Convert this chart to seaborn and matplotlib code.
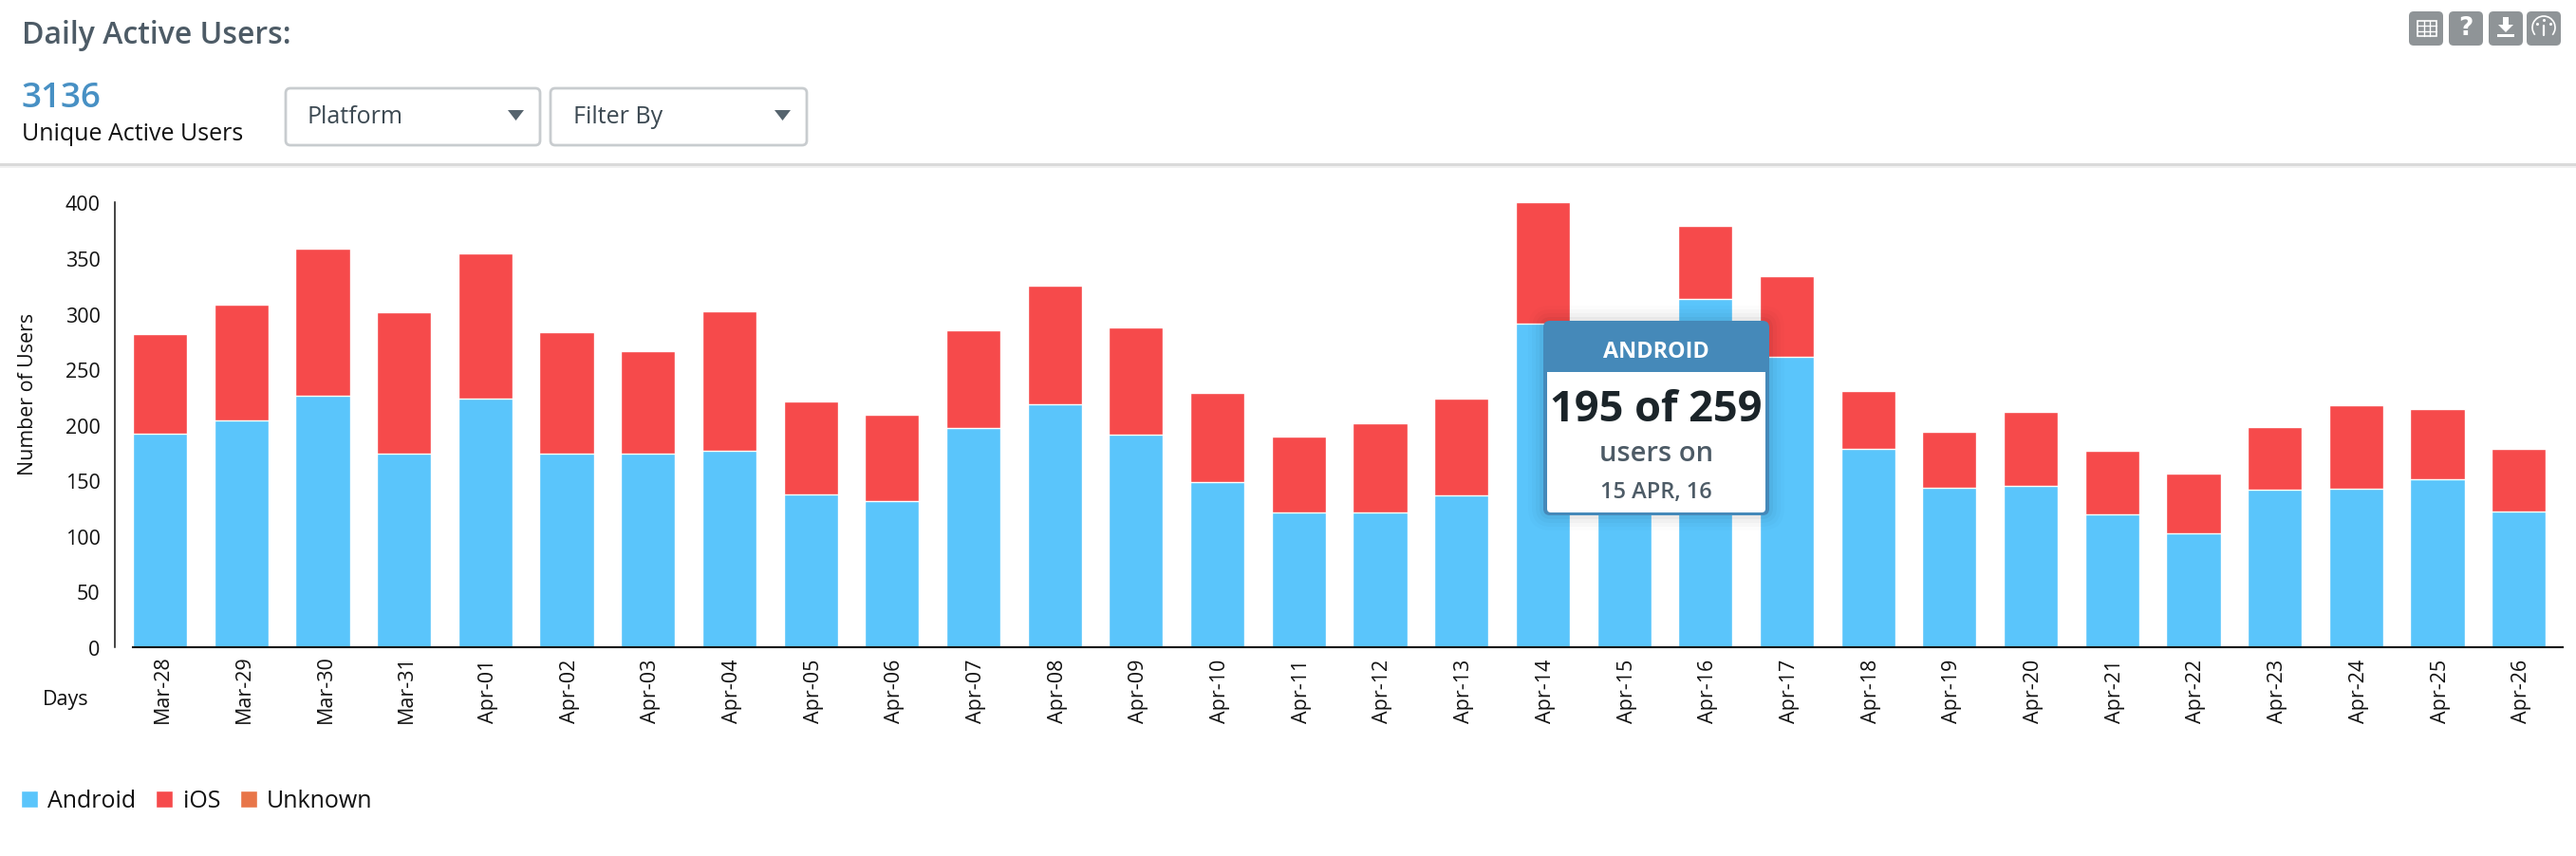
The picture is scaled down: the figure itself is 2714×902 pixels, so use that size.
import matplotlib
matplotlib.use("Agg")
import matplotlib.pyplot as plt
import matplotlib.transforms as mtrans
from matplotlib.patches import FancyBboxPatch, Rectangle, Polygon, Arc, Patch
import seaborn as sns
import pandas as pd

days = ["Mar-28","Mar-29","Mar-30","Mar-31","Apr-01","Apr-02","Apr-03","Apr-04","Apr-05","Apr-06",
        "Apr-07","Apr-08","Apr-09","Apr-10","Apr-11","Apr-12","Apr-13","Apr-14","Apr-15","Apr-16",
        "Apr-17","Apr-18","Apr-19","Apr-20","Apr-21","Apr-22","Apr-23","Apr-24","Apr-25","Apr-26"]
android = [192,204,226,174,223,174,174,176,137,131,197,218,191,148,121,121,136,291,195,313,261,178,143,145,119,102,141,142,151,122]
ios = [89,104,132,127,131,109,92,126,84,78,88,107,96,80,68,80,87,109,64,66,72,52,50,66,57,54,57,75,63,56]
yticks = [0,50,100,150,200,250,300,350,400]
series_names = ["Android","iOS","Unknown"]
series_colors = ["#5AC5FB","#F64A4B","#E87548"]

sns.set_theme(style="white")
plt.rcParams["font.family"] = ["Open Sans","DejaVu Sans"]
W, H = 2714, 902
fig = plt.figure(figsize=(W/100, H/100), dpi=100, facecolor="white")
ax = fig.add_axes([140/W, (H-681.5)/H, 2560/W, 468.5/H])

df = pd.DataFrame({"day": days, "Android": android, "iOS": ios})
df["total"] = df["Android"] + df["iOS"]
sns.barplot(data=df, x="day", y="total", color=series_colors[1], saturation=1, width=0.667, ax=ax, zorder=2)
sns.barplot(data=df, x="day", y="Android", color=series_colors[0], saturation=1, width=0.667, ax=ax, zorder=3)

ax.set_xlim(-0.3335, 29.54)
ax.set_ylim(0, 400)
ax.set_yticks(yticks)
ax.set_xlabel("")
ax.set_ylabel("")
for s in ["top","right"]:
    ax.spines[s].set_visible(False)
ax.spines["left"].set_position(("outward", 13.7))
ax.spines["left"].set_linewidth(1.1)
ax.spines["left"].set_color("#111111")
ax.spines["bottom"].set_linewidth(1.5)
ax.spines["bottom"].set_color("#111111")
ax.spines["bottom"].set_zorder(5)
ax.tick_params(axis="y", length=0, pad=11, labelsize=15.5, labelcolor="#111111")
ax.tick_params(axis="x", length=0, pad=0, labelsize=15.5, labelcolor="#111111")
ax.set_xticks(range(len(days)))
ax.set_xticklabels(days, rotation=90, va="bottom", ha="center")
for lab in ax.get_xticklabels():
    lab.set_transform(lab.get_transform() + mtrans.Affine2D().translate(3, -80))
for lab in ax.get_yticklabels():
    lab.set_transform(lab.get_transform() + mtrans.Affine2D().translate(0, -1.5))

handles = [Patch(facecolor=c, label=n) for c, n in zip(series_colors, series_names)]
fig.legend(handles=handles, loc="lower left", bbox_to_anchor=(22/W, (H-857)/H), ncols=3, frameon=False,
           fontsize=18, handlelength=0.72, handleheight=0.72, handletextpad=0.42, columnspacing=0.82,
           borderpad=0, borderaxespad=0, labelcolor="#111111")

# overlay in picture pixels for the page furniture around the chart
ov = fig.add_axes([0, 0, 1, 1], zorder=10)
ov.set_xlim(0, W); ov.set_ylim(H, 0); ov.axis("off"); ov.patch.set_alpha(0)

def rbox(x0, y0, x1, y1, r=5, **kw):
    p = FancyBboxPatch((x0, y0), x1-x0, y1-y0, boxstyle=f"round,pad=0,rounding_size={r}", **kw)
    ov.add_patch(p)
    return p

slate = "#4D5B66"
ov.text(23, 38, "Daily Active Users:", fontsize=23, weight="semibold", color=slate, va="center", ha="left")
ov.text(22, 104, "3136", fontsize=26.5, weight="semibold", color="#4790C4", va="center", ha="left")
ov.text(23, 141, "Unique Active Users", fontsize=18, color="#111111", va="center", ha="left")

for x0, x1, label, tx, tri in [(301, 569, "Platform", 323, 535), (580, 850, "Filter By", 604, 816)]:
    rbox(x0, 93, x1, 153, r=5, facecolor="white", edgecolor="#C8CCCF", linewidth=2)
    ov.text(tx, 124, label, fontsize=18, color="#3C4952", va="center", ha="left")
    ov.add_patch(Polygon([(tri, 116), (tri+17, 116), (tri+8.5, 127)], closed=True, facecolor="#56646E", edgecolor="none"))

ov.add_patch(Rectangle((0, 172), W, 3, facecolor="#DADADA", edgecolor="none"))
ov.add_patch(Rectangle((0, 175), W, 2, facecolor="#F0F0F0", edgecolor="none"))

# toolbar icons
icon_grey = "#8F9497"
for x0 in [2538, 2580, 2622, 2662]:
    rbox(x0, 12, x0+36, 48, r=5, facecolor=icon_grey, edgecolor="none")
ov.add_patch(Rectangle((2547, 22), 20, 16, facecolor="none", edgecolor="white", linewidth=1.2))
for y in [27.3, 32.6]:
    ov.plot([2547, 2567], [y, y], color="white", lw=1.0)
for x in [2553.7, 2560.3]:
    ov.plot([x, x], [22, 38], color="white", lw=1.0)
ov.text(2598, 30, "?", fontsize=19, weight="bold", color="white", va="center", ha="center", family="DejaVu Sans")
ov.add_patch(Polygon([(2637, 18), (2643, 18), (2643, 26), (2648, 26), (2640, 34), (2632, 26), (2637, 26)], closed=True, facecolor="white", edgecolor="none"))
ov.add_patch(Rectangle((2631, 36), 18, 2.5, facecolor="white", edgecolor="none"))
ov.add_patch(Arc((2680, 29), 24, 24, theta1=140, theta2=40, color="white", lw=1.2))
ov.plot([2680, 2680], [27, 37], color="white", lw=1.6)
for dx, dy in [(-7, -4), (0, -8), (7, -4)]:
    ov.plot([2680+dx], [29+dy], marker="o", ms=1.2, color="white")

# tooltip
for g, a in [(16, .012), (12, .018), (8, .025), (4, .035)]:
    rbox(1626-g, 338-g, 1864+g, 543+g, r=8+g, facecolor="black", edgecolor="none", alpha=a)
rbox(1626, 338, 1864, 543, r=7, facecolor="#4589B9", edgecolor="none")
ov.add_patch(Rectangle((1630, 392), 230, 144, facecolor="white", edgecolor="none"))
rbox(1630, 520, 1860, 540, r=4, facecolor="white", edgecolor="none")
ov.text(1745, 371, "ANDROID", fontsize=16.8, weight="bold", color="white", va="center", ha="center")
ov.text(1745, 432, "195 of 259", fontsize=32.5, weight="bold", color="#1B2429", va="center", ha="center")
ov.text(1745, 479, "users on", fontsize=21, weight="semibold", color=slate, va="center", ha="center")
ov.text(1745, 519, "15 APR, 16", fontsize=17, weight="semibold", color=slate, va="center", ha="center")

# axis titles
ov.text(69, 738, "Days", fontsize=15.5, color="#111111", va="center", ha="center")
ov.text(30, 415, "Number of Users", fontsize=15.4, color="#111111", va="center", ha="center", rotation=90)

fig.savefig("out.png", dpi=100, facecolor="white")
